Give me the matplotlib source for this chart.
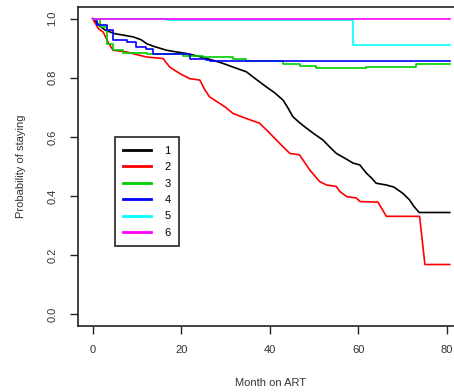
import matplotlib
matplotlib.use("Agg")
from matplotlib import pyplot as plt
from matplotlib.lines import Line2D

plt.rcParams['font.family'] = ['Liberation Sans', 'DejaVu Sans']

# survival curves (month, probability)
t1 = [0, 1, 2, 3, 5, 7, 9.2, 11, 12.2, 14, 16.7, 19, 21.2, 24, 27.2, 29.5, 31.7, 33, 34.7, 36,
      37.5, 39.2, 41, 43, 44, 45.2, 46.7, 48.3, 50, 52, 53.5, 55, 57, 58.8, 60.3, 61.8, 63, 64,
      66.3, 68, 70, 71.5, 72.5, 73.7, 80.6]
s1 = [1.0, 0.985, 0.97, 0.96, 0.949, 0.944, 0.938, 0.928, 0.915, 0.905, 0.893, 0.887, 0.882,
      0.872, 0.859, 0.848, 0.836, 0.829, 0.820, 0.805, 0.788, 0.769, 0.75, 0.724, 0.70, 0.668,
      0.648, 0.629, 0.61, 0.589, 0.566, 0.544, 0.527, 0.511, 0.505, 0.477, 0.46, 0.443, 0.437,
      0.43, 0.409, 0.387, 0.365, 0.344, 0.344]

t2 = [0, 1.3, 2.4, 3.5, 4.6, 7.7, 10, 12.2, 15.9, 17.4, 19.7, 21.9, 24.2, 25.3, 26.4, 28.7,
      30, 31.7, 34.7, 37.7, 40, 42.2, 44.5, 46.7, 49, 51.2, 52.8, 55, 55.8, 57.3, 59.5, 60.4,
      64.4, 66.3, 73.8, 75.0, 80.6]
s2 = [1.0, 0.966, 0.954, 0.92, 0.893, 0.887, 0.878, 0.870, 0.865, 0.836, 0.814, 0.797, 0.792,
      0.76, 0.735, 0.713, 0.70, 0.679, 0.662, 0.646, 0.612, 0.578, 0.544, 0.539, 0.488, 0.449,
      0.437, 0.432, 0.415, 0.398, 0.393, 0.381, 0.379, 0.331, 0.331, 0.168, 0.168]

t3 = [0, 1.7, 3.2, 4.6, 6.9, 12.2, 20.4, 25, 31.7, 34.7, 43, 46.7, 50.5, 61.8, 73.1, 80.6]
s3 = [1.0, 0.971, 0.915, 0.893, 0.884, 0.879, 0.874, 0.87, 0.865, 0.856, 0.848, 0.840, 0.833,
      0.836, 0.846, 0.848]

t4 = [0, 0.9, 3.2, 4.6, 7.7, 9.9, 12, 13.7, 21.9, 25.7, 26.4, 80.6]
s4 = [1.0, 0.977, 0.960, 0.926, 0.921, 0.904, 0.898, 0.879, 0.865, 0.861, 0.855, 0.855]

t5 = [0, 16.7, 58.8, 80.6]
s5 = [1.0, 0.994, 0.912, 0.912]

t6 = [0, 80.6]
s6 = [1.0, 1.0]

grupos = ["1", "2", "3", "4", "5", "6"]
colores = ["black", "#FF0000", "#00CD00", "#0000FF", "#00FFFF", "#FF00FF"]

fig = plt.figure(figsize=(4.54, 3.92), dpi=100)
ax = fig.add_axes([0.1718, 0.1684, 0.8744, 0.8143])

# 1 and 2 have many small steps, so a plain line through the read points looks closer
ax.plot(t1, s1, color=colores[0], lw=1.2)
ax.plot(t2, s2, color=colores[1], lw=1.2)
curvas = [(t3, s3), (t4, s4), (t5, s5), (t6, s6)]
for (t, s), c in zip(curvas, colores[2:]):
    ax.plot(t, s, drawstyle="steps-post", color=c, lw=1.2)

ax.set_xlim(-3.3, 86.3)
ax.set_ylim(-0.04, 1.04)
ax.set_xticks([0, 20, 40, 60, 80])
ax.set_yticks([0.0, 0.2, 0.4, 0.6, 0.8, 1.0])
ax.set_yticklabels(["0.0", "0.2", "0.4", "0.6", "0.8", "1.0"], rotation=90, va="center")
ax.tick_params(direction="out", length=6, width=1, labelsize=8, color="#222222",
               labelcolor="#333333")
ax.tick_params(axis="x", pad=8)
ax.tick_params(axis="y", pad=9)
for sp in ax.spines.values():
    sp.set_linewidth(1.2)
    sp.set_color("#222222")

ax.set_xlabel("Month on ART", fontsize=8, color="#333333")
ax.xaxis.set_label_coords(0.486, -0.163)
ax.set_ylabel("Probability of staying", fontsize=8, color="#333333")
ax.yaxis.set_label_coords(-0.13, 0.5)

handles = [Line2D([], [], color=c, lw=2) for c in colores]
leg = ax.legend(handles, grupos, loc="upper left", bbox_to_anchor=(0.2533, 0.6497),
                bbox_transform=fig.transFigure, borderaxespad=0, fancybox=False,
                fontsize=8, handlelength=2.5, handletextpad=1.2, labelspacing=0.58,
                borderpad=0.75, framealpha=1)
leg.get_frame().set_edgecolor("#222222")
leg.get_frame().set_linewidth(1.2)

fig.savefig("out.png", dpi=100)
